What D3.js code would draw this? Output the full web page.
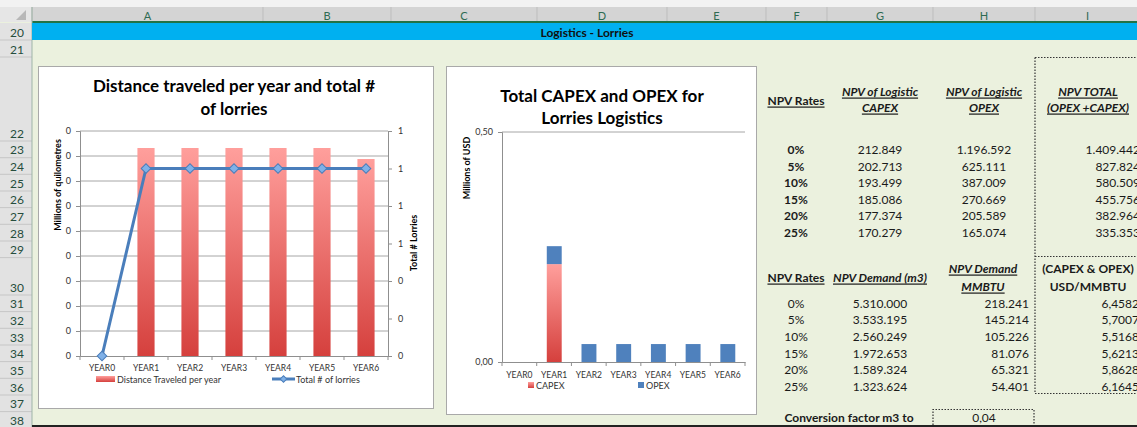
<!DOCTYPE html>
<html>
<head>
<meta charset="utf-8">
<script src="https://cdn.jsdelivr.net/npm/d3@7"></script>
<style>
  body { margin: 0; background: #ebf1de; }
  svg text { font-family: Lato, "Open Sans", sans-serif; }
</style>
</head>
<body>
<div id="sheet"></div>
<script>
var W = 1137, H = 427;

// chart data
var years = ["YEAR0", "YEAR1", "YEAR2", "YEAR3", "YEAR4", "YEAR5", "YEAR6"];
var distance = [0, 0.416, 0.416, 0.416, 0.416, 0.416, 0.394];   // millions of km
var lorries = [0, 1, 1, 1, 1, 1, 1];
var capex = [0, 0.2128, 0, 0, 0, 0, 0];                          // millions USD
var opex = [0, 0.039, 0.039, 0.039, 0.039, 0.039, 0.039];
var leftTicks = [0, 0.05, 0.1, 0.15, 0.2, 0.25, 0.3, 0.35, 0.4, 0.45];
var rightTicks = [0, 0.2, 0.4, 0.6, 0.8, 1, 1.2];
var usdTicks = [0, 0.5];

// table data
var npvRates = ["0%", "5%", "10%", "15%", "20%", "25%"];
var npvCapex = [212849, 202713, 193499, 185086, 177374, 170279];
var npvOpex = [1196592, 625111, 387009, 270669, 205589, 165074];
var npvTotal = [1409442, 827824, 580509, 455756, 382964, 335353];
var demandM3 = [5310000, 3533195, 2560249, 1972653, 1589324, 1323624];
var demandMMBTU = [218241, 145214, 105226, 81076, 65321, 54401];
var usdPerMMBTU = [6.4582, 5.7007, 5.5168, 5.6213, 5.8628, 6.1645];
var conversion = 0.04;

var colLetters = ["A", "B", "C", "D", "E", "F", "G", "H", "I"];
var colEdges = [32, 263, 391, 537, 667, 766, 827, 933, 1035, 1140];
var rowNums = d3.range(20, 39);
var rowEdges = [23, 40, 57, 141, 157.7, 174.3, 191, 207.6, 224.3, 241, 257.6, 295, 311.6, 328.3, 345, 361.6, 378.3, 395, 411.6, 428.3];

var loc = d3.formatLocale({decimal: ",", thousands: ".", grouping: [3], currency: ["", ""]});
var fInt = loc.format(",.0f");
var f4 = loc.format(",.4f");
var f2 = loc.format(",.2f");

var svg = d3.select("#sheet").append("svg").attr("width", W).attr("height", H);
var defs = svg.append("defs");
var grad = defs.append("linearGradient").attr("id", "redgrad")
  .attr("x1", 0).attr("y1", 0).attr("x2", 0).attr("y2", 1);
grad.append("stop").attr("offset", "0%").attr("stop-color", "#ff9f9c");
grad.append("stop").attr("offset", "100%").attr("stop-color", "#d5403d");

// ---- spreadsheet frame
svg.append("rect").attr("width", W).attr("height", H).attr("fill", "#ebf1de");
svg.append("rect").attr("width", W).attr("height", 7).attr("fill", "#f2f2f2");
svg.append("rect").attr("y", 7).attr("width", W).attr("height", 15).attr("fill", "#d4d4d4");
svg.append("rect").attr("y", 7).attr("width", 32).attr("height", 15).attr("fill", "#e6e6e6");
svg.append("path").attr("d", "M26,10 L26,20 L16,20 Z").attr("fill", "#b8b8b8");
svg.append("rect").attr("y", 23).attr("width", 32).attr("height", H - 23).attr("fill", "#e2e2e2");
svg.append("rect").attr("y", 21).attr("x", 32).attr("width", W).attr("height", 2).attr("fill", "#217346");

colLetters.forEach(function(c, i) {
  svg.append("line").attr("x1", colEdges[i]).attr("x2", colEdges[i]).attr("y1", 7).attr("y2", 21)
    .attr("stroke", "#bdbdbd");
  svg.append("text").attr("x", (colEdges[i] + colEdges[i + 1]) / 2).attr("y", 15)
    .attr("text-anchor", "middle").attr("dominant-baseline", "central")
    .attr("font-size", 11).attr("fill", "#2e6b52").text(c);
});

rowNums.forEach(function(r, i) {
  svg.append("line").attr("x1", 0).attr("x2", 32).attr("y1", rowEdges[i + 1]).attr("y2", rowEdges[i + 1])
    .attr("stroke", "#c6c6c6");
  svg.append("text").attr("x", 17).attr("y", rowEdges[i + 1] - 8)
    .attr("text-anchor", "middle").attr("dominant-baseline", "central")
    .attr("font-size", 12).attr("fill", "#264d3c").text(r);
});
svg.append("line").attr("x1", 32).attr("x2", 32).attr("y1", 7).attr("y2", H).attr("stroke", "#9fb5a8");

// row 20 banner
svg.append("rect").attr("x", 32).attr("y", 23).attr("width", W).attr("height", 17).attr("fill", "#00b0f0");
svg.append("text").attr("x", 587).attr("y", 32).attr("text-anchor", "middle").attr("dominant-baseline", "central")
  .attr("font-size", 12).attr("font-weight", "bold").attr("fill", "#111").text("Logistics - Lorries");

svg.append("rect").attr("x", 32).attr("y", 425).attr("width", W).attr("height", 2).attr("fill", "#222");

// ---- chart 1: distance and lorries
var c1 = svg.append("g");
c1.append("rect").attr("x", 38.5).attr("y", 66.5).attr("width", 395).attr("height", 342)
  .attr("fill", "#fff").attr("stroke", "#a9a9a9");
c1.append("text").attr("x", 234).attr("y", 85).attr("text-anchor", "middle").attr("dominant-baseline", "central")
  .attr("font-size", 17).attr("font-weight", "bold").text("Distance traveled per year and total #");
c1.append("text").attr("x", 234).attr("y", 108).attr("text-anchor", "middle").attr("dominant-baseline", "central")
  .attr("font-size", 17).attr("font-weight", "bold").text("of lorries");

var x1 = d3.scaleBand().domain(years).range([80, 388]);
var yL = d3.scaleLinear().domain([0, 0.45]).range([356, 131]);
var yR = d3.scaleLinear().domain([0, 1.2]).range([356, 131]);

c1.append("g").selectAll("line").data(leftTicks.slice(1)).join("line")
  .attr("x1", 80).attr("x2", 388).attr("y1", function(d) { return yL(d); }).attr("y2", function(d) { return yL(d); })
  .attr("stroke", "#8f8f8f").attr("stroke-width", 0.8);

var axL = c1.append("g").attr("transform", "translate(80,0)")
  .call(d3.axisLeft(yL).tickValues(leftTicks).tickFormat(d3.format(".0f")).tickSize(4).tickPadding(5));
var axR = c1.append("g").attr("transform", "translate(388,0)")
  .call(d3.axisRight(yR).tickValues(rightTicks).tickFormat(d3.format(".0f")).tickSize(4).tickPadding(6));
[axL, axR].forEach(function(a) {
  a.select(".domain").attr("stroke", "#8f8f8f");
  a.selectAll(".tick line").attr("stroke", "#8f8f8f");
  a.selectAll("text").attr("font-size", 9).attr("fill", "#333").attr("font-family", "Lato");
});

c1.append("g").selectAll("rect").data(distance).join("rect")
  .attr("x", function(d, i) { return x1(years[i]) + x1.bandwidth() * 0.305; })
  .attr("width", x1.bandwidth() * 0.39)
  .attr("y", function(d) { return yL(d); })
  .attr("height", function(d) { return yL(0) - yL(d); })
  .attr("fill", "url(#redgrad)");

var axB = c1.append("g").attr("transform", "translate(0,356)")
  .call(d3.axisBottom(x1).tickSize(0).tickPadding(9));
axB.select(".domain").attr("stroke", "#8f8f8f");
axB.selectAll("text").attr("font-size", 8.5).attr("fill", "#333").attr("font-family", "Lato");
c1.append("g").selectAll("line").data(d3.range(years.length + 1)).join("line")
  .attr("x1", function(i) { return 80 + i * x1.step(); }).attr("x2", function(i) { return 80 + i * x1.step(); })
  .attr("y1", 356).attr("y2", 360).attr("stroke", "#8f8f8f");

var line1 = d3.line().x(function(d, i) { return x1(years[i]) + x1.bandwidth() / 2; }).y(function(d) { return yR(d); });
c1.append("path").datum(lorries).attr("d", line1).attr("fill", "none")
  .attr("stroke", "#4a7ebb").attr("stroke-width", 3).attr("stroke-linejoin", "round");
var diamond = d3.symbol(d3.symbolSquare, 46);
c1.append("g").selectAll("path").data(lorries).join("path")
  .attr("d", diamond)
  .attr("transform", function(d, i) { return "translate(" + (x1(years[i]) + x1.bandwidth() / 2) + "," + yR(d) + ") rotate(45)"; })
  .attr("fill", "#80b1e8").attr("stroke", "#4a7ebb").attr("stroke-width", 1);

c1.append("text").attr("transform", "translate(57,185) rotate(-90)").attr("text-anchor", "middle")
  .attr("dominant-baseline", "central").attr("font-size", 9).attr("font-weight", "bold").text("Millions of quilometres");
c1.append("text").attr("transform", "translate(413,243) rotate(-90)").attr("text-anchor", "middle")
  .attr("dominant-baseline", "central").attr("font-size", 9).attr("font-weight", "bold").text("Total # Lorries");

// legend
c1.append("rect").attr("x", 96).attr("y", 376).attr("width", 19).attr("height", 6).attr("fill", "url(#redgrad)");
c1.append("text").attr("x", 117).attr("y", 379).attr("dominant-baseline", "central").attr("font-size", 9)
  .attr("fill", "#333").text("Distance Traveled per year");
c1.append("line").attr("x1", 272).attr("x2", 295).attr("y1", 379).attr("y2", 379)
  .attr("stroke", "#4a7ebb").attr("stroke-width", 3);
c1.append("path").attr("d", d3.symbol(d3.symbolSquare, 22))
  .attr("transform", "translate(283.5,379) rotate(45)").attr("fill", "#80b1e8").attr("stroke", "#4a7ebb");
c1.append("text").attr("x", 296).attr("y", 379).attr("dominant-baseline", "central").attr("font-size", 9)
  .attr("fill", "#333").text("Total # of lorries");

// ---- chart 2: capex and opex
var c2 = svg.append("g");
c2.append("rect").attr("x", 446.5).attr("y", 66.5).attr("width", 310).attr("height", 348)
  .attr("fill", "#fff").attr("stroke", "#a9a9a9");
c2.append("text").attr("x", 602).attr("y", 95).attr("text-anchor", "middle").attr("dominant-baseline", "central")
  .attr("font-size", 17).attr("font-weight", "bold").text("Total CAPEX and OPEX for");
c2.append("text").attr("x", 602).attr("y", 117).attr("text-anchor", "middle").attr("dominant-baseline", "central")
  .attr("font-size", 17).attr("font-weight", "bold").text("Lorries Logistics");

var x2 = d3.scaleBand().domain(years).range([502, 745]);
var y2 = d3.scaleLinear().domain([0, 0.5]).range([362, 132]);

c2.append("line").attr("x1", 502).attr("x2", 745).attr("y1", y2(0.5)).attr("y2", y2(0.5))
  .attr("stroke", "#8f8f8f").attr("stroke-width", 0.8);
var ax2 = c2.append("g").attr("transform", "translate(502,0)")
  .call(d3.axisLeft(y2).tickValues(usdTicks).tickFormat(f2).tickSize(4).tickPadding(5));
ax2.select(".domain").attr("stroke", "#8f8f8f");
ax2.selectAll(".tick line").attr("stroke", "#8f8f8f");
ax2.selectAll("text").attr("font-size", 9).attr("fill", "#333").attr("font-family", "Lato");

var stackData = years.map(function(y, i) { return {year: y, capex: capex[i], opex: opex[i]}; });
var series = d3.stack().keys(["capex", "opex"])(stackData);
var fills = {capex: "url(#redgrad)", opex: "#4f81bd"};
c2.append("g").selectAll("g").data(series).join("g")
  .attr("fill", function(s) { return fills[s.key]; })
  .selectAll("rect").data(function(s) { return s; }).join("rect")
  .attr("x", function(d) { return x2(d.data.year) + x2.bandwidth() * 0.29; })
  .attr("width", x2.bandwidth() * 0.43)
  .attr("y", function(d) { return y2(d[1]); })
  .attr("height", function(d) { return y2(d[0]) - y2(d[1]); });

var ax2b = c2.append("g").attr("transform", "translate(0,362)")
  .call(d3.axisBottom(x2).tickSize(0).tickPadding(10));
ax2b.select(".domain").attr("stroke", "#8f8f8f");
ax2b.selectAll("text").attr("font-size", 8.5).attr("fill", "#333").attr("font-family", "Lato");
c2.append("g").selectAll("line").data(d3.range(years.length + 1)).join("line")
  .attr("x1", function(i) { return 502 + i * x2.step(); }).attr("x2", function(i) { return 502 + i * x2.step(); })
  .attr("y1", 362).attr("y2", 366).attr("stroke", "#8f8f8f");

c2.append("text").attr("transform", "translate(466,168) rotate(-90)").attr("text-anchor", "middle")
  .attr("dominant-baseline", "central").attr("font-size", 9).attr("font-weight", "bold").text("Millions of USD");

c2.append("rect").attr("x", 528).attr("y", 382).attr("width", 6).attr("height", 6).attr("fill", "url(#redgrad)");
c2.append("text").attr("x", 536).attr("y", 385).attr("dominant-baseline", "central").attr("font-size", 9)
  .attr("fill", "#333").text("CAPEX");
c2.append("rect").attr("x", 638).attr("y", 382).attr("width", 6).attr("height", 6).attr("fill", "#4f81bd");
c2.append("text").attr("x", 646).attr("y", 385).attr("dominant-baseline", "central").attr("font-size", 9)
  .attr("fill", "#333").text("OPEX");

// ---- tables
var tb = svg.append("g").attr("font-size", 12).attr("fill", "#1a1a1a");
function cell(x, y, txt, opts) {
  opts = opts || {};
  var t = tb.append("text").attr("x", x).attr("y", y).attr("dominant-baseline", "central")
    .attr("text-anchor", opts.anchor || "middle").text(txt);
  if (opts.bold) t.attr("font-weight", "bold");
  if (opts.italic) t.attr("font-style", "italic");
  if (opts.underline) t.attr("text-decoration", "underline");
  return t;
}
function rowMid(r) { var i = r - 20; return (rowEdges[i] + rowEdges[i + 1]) / 2; }

cell(796, 100, "NPV Rates", {bold: true, underline: true});
cell(880, 91, "NPV of Logistic ", {bold: true, italic: true, underline: true});
cell(880, 107, "CAPEX", {bold: true, italic: true, underline: true});
cell(984, 91, "NPV of Logistic ", {bold: true, italic: true, underline: true});
cell(984, 107, "OPEX", {bold: true, italic: true, underline: true});
cell(1088, 91, "NPV TOTAL ", {bold: true, italic: true, underline: true});
cell(1088, 107, "(OPEX +CAPEX)", {bold: true, italic: true, underline: true});

npvRates.forEach(function(r, i) {
  var y = rowMid(23 + i);
  cell(796, y, r, {bold: true});
  cell(880, y, fInt(npvCapex[i]));
  cell(984, y, fInt(npvOpex[i]));
  cell(1140, y, fInt(npvTotal[i]), {anchor: "end"});
});

cell(796, 277, "NPV Rates", {bold: true, underline: true});
cell(880, 277, "NPV Demand (m3)", {bold: true, italic: true, underline: true});
cell(983, 268, "NPV Demand ", {bold: true, italic: true, underline: true});
cell(983, 286, "MMBTU", {bold: true, italic: true, underline: true});
cell(1088, 268, "(CAPEX & OPEX)", {bold: true});
cell(1088, 286, "USD/MMBTU", {bold: true});

npvRates.forEach(function(r, i) {
  var y = rowMid(31 + i);
  cell(796, y, r);
  cell(880, y, fInt(demandM3[i]));
  cell(1029, y, fInt(demandMMBTU[i]), {anchor: "end"});
  cell(1139, y, f4(usdPerMMBTU[i]), {anchor: "end"});
});

cell(849, 417, "Conversion factor m3 to", {bold: true});
cell(984, 417, loc.format(",.2f")(conversion));

// dotted borders
var dot = svg.append("g").attr("stroke", "#333").attr("stroke-width", 1.2).attr("stroke-dasharray", "1.5,1.5").attr("fill", "none");
dot.append("path").attr("d", "M1035,57.5 H1137 M1035,57.5 V393.5 H1137 M1035,256.5 H1137");
dot.append("path").attr("d", "M933,425 V409.5 H1034 V425");
</script>
</body>
</html>
